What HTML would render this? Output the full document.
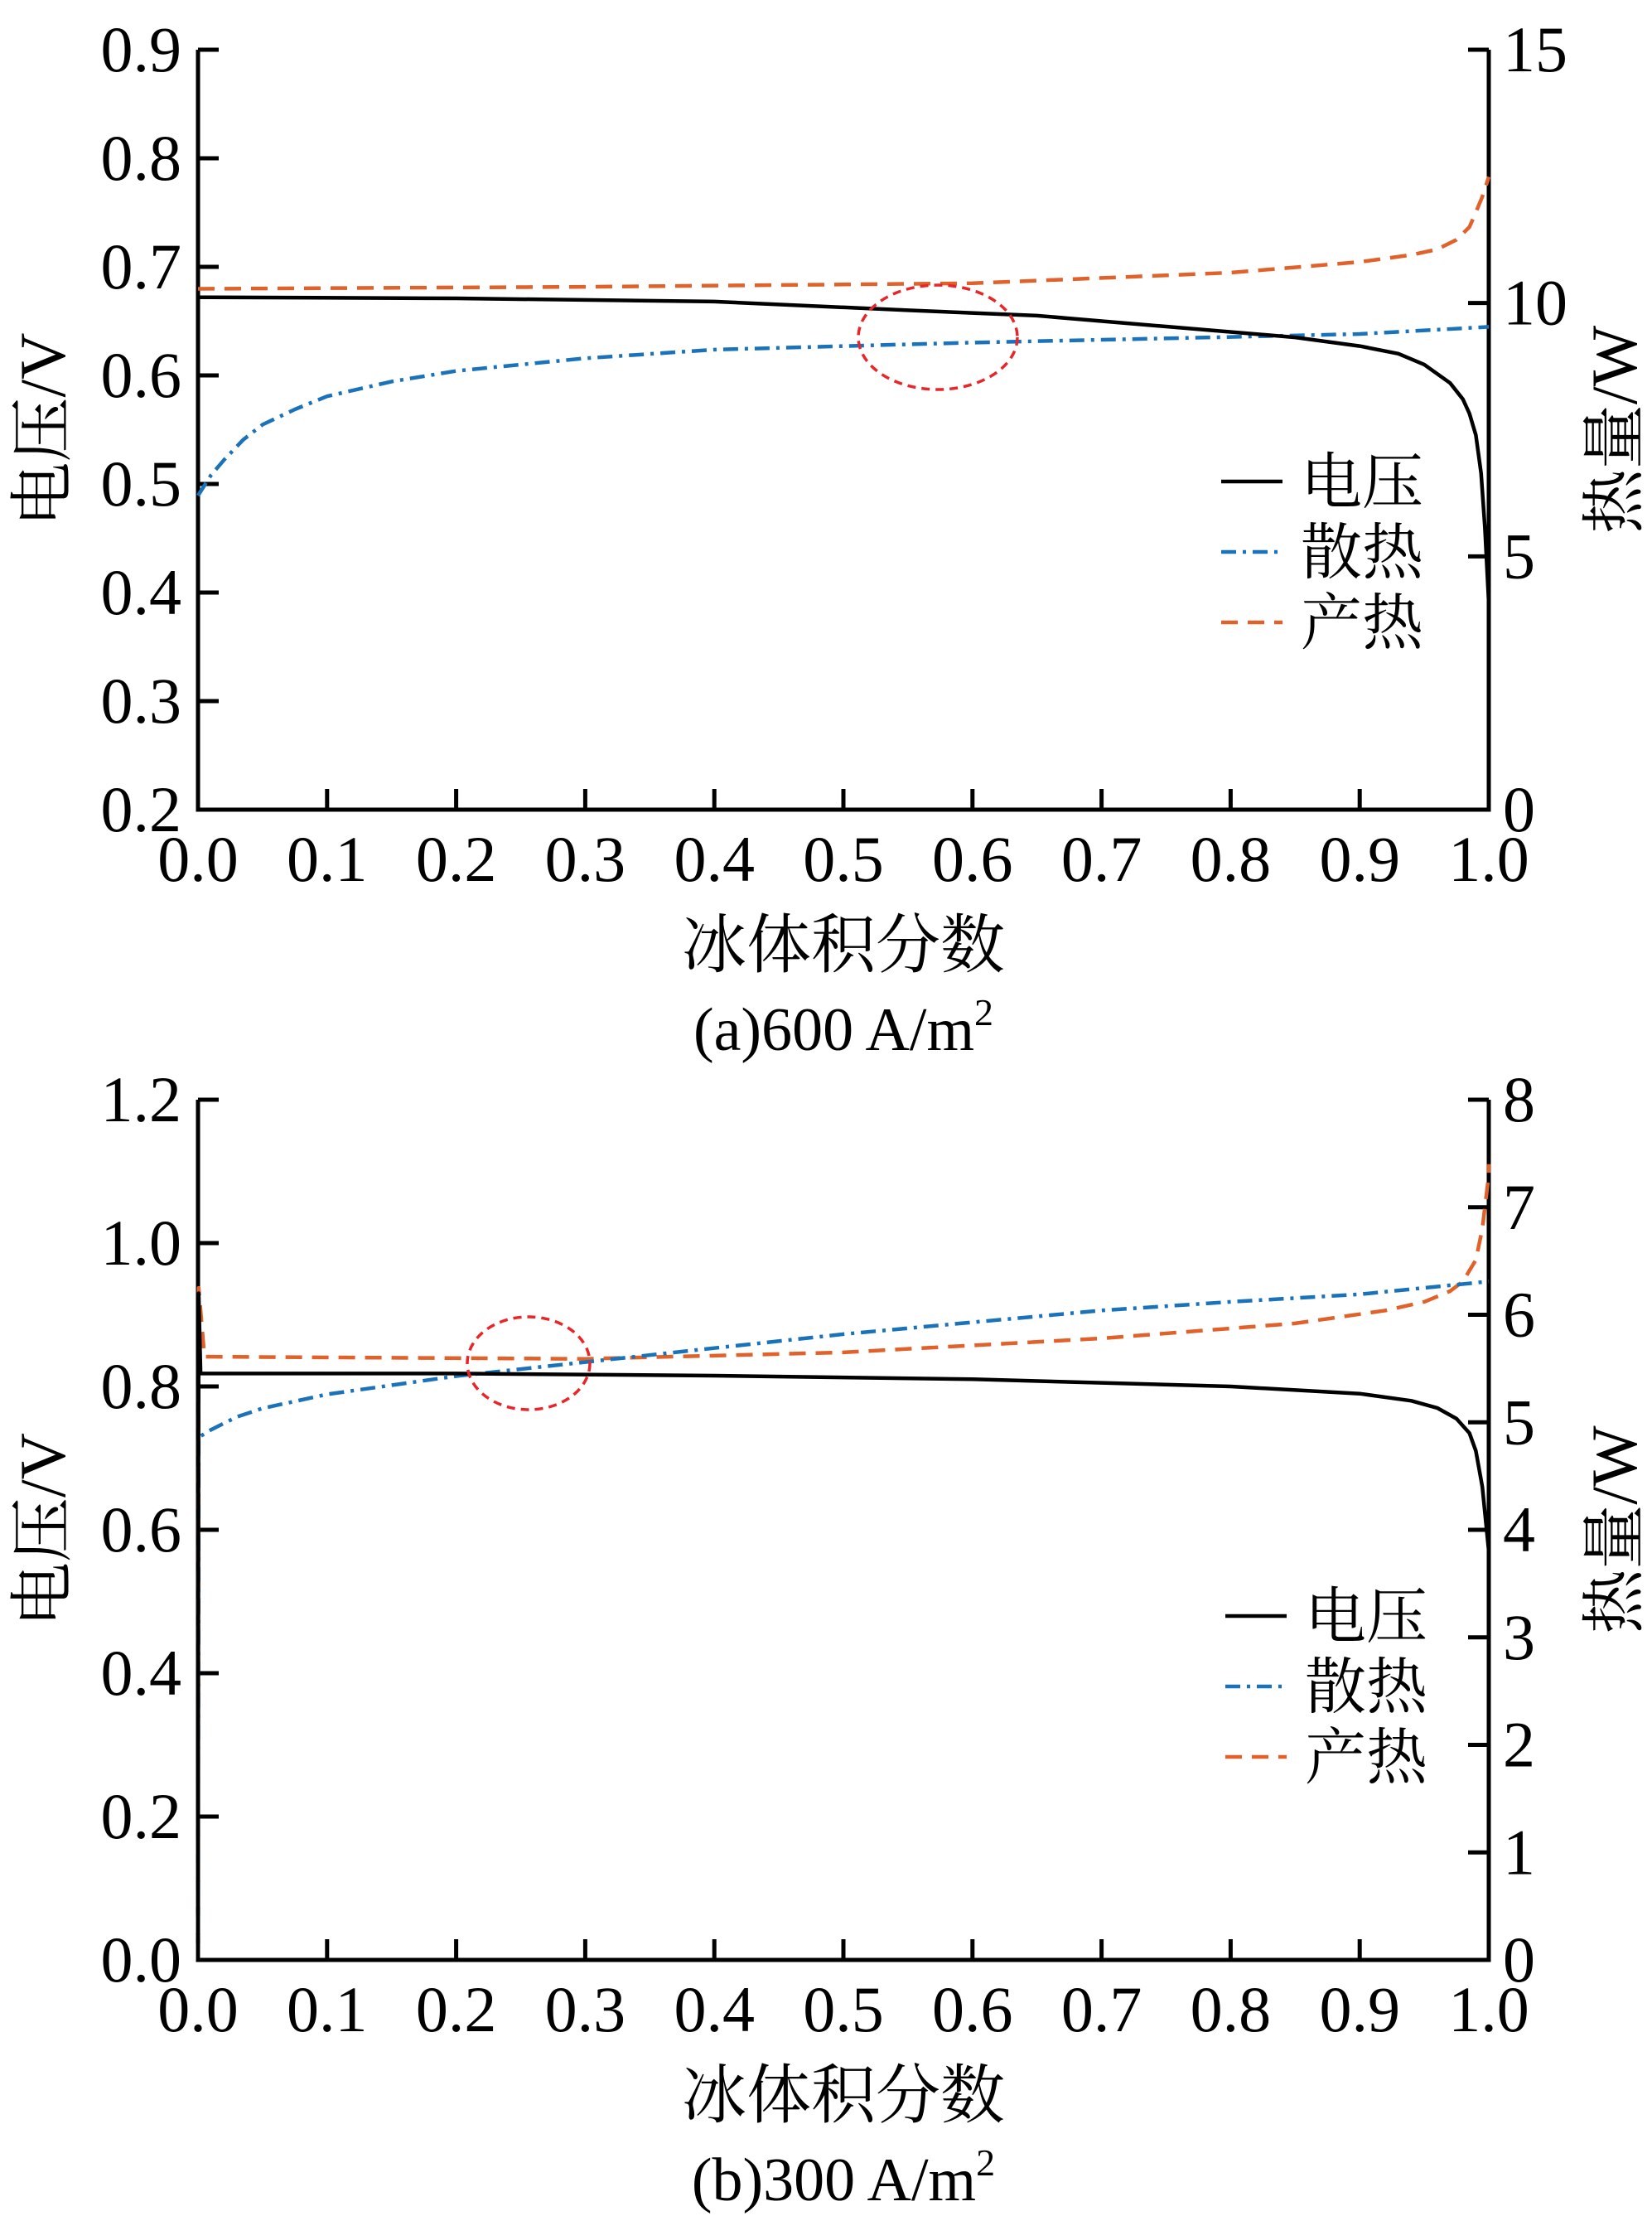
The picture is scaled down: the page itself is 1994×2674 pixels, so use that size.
<!DOCTYPE html>
<html><head><meta charset="utf-8"><style>
html,body{margin:0;padding:0;background:#fff}
svg{display:block}
text{font-family:"Liberation Serif","Noto Serif CJK SC",serif;fill:#000}
.cjk{font-family:"Liberation Serif","Noto Serif CJK SC","Noto Sans CJK SC",serif}
</style></head><body>
<svg id="fig" width="1994" height="2674" viewBox="0 0 1994 2674" xmlns="http://www.w3.org/2000/svg"></svg>
<script>
// ---- Chart (a) 600 A/m2 data ----
const aVoltX = [0,0.2,0.4,0.55,0.65,0.75,0.85,0.9,0.93,0.95,0.97,0.98,0.985,0.99,0.994,0.997,1.0];
const aVoltY = [0.672,0.671,0.668,0.66,0.655,0.645,0.635,0.627,0.62,0.61,0.593,0.578,0.565,0.545,0.51,0.46,0.39];
const aGenX = [0,0.3,0.6,0.8,0.9,0.94,0.96,0.975,0.985,0.99,0.995,1.0];
const aGenY = [10.28,10.32,10.39,10.6,10.81,10.95,11.06,11.25,11.5,11.79,12.1,12.49];
const aDisX = [0,0.01,0.02,0.035,0.05,0.075,0.1,0.15,0.2,0.3,0.4,0.6,0.8,0.9,1.0];
const aDisY = [6.2,6.6,6.9,7.3,7.6,7.9,8.16,8.45,8.66,8.91,9.08,9.22,9.33,9.39,9.53];
const aLeftTicks = [0.2,0.3,0.4,0.5,0.6,0.7,0.8,0.9];
const aRightTicks = [0,5,10,15];
// ---- Chart (b) 300 A/m2 data ----
const bVoltX = [0,0.0005,0.002,0.1,0.2,0.4,0.6,0.8,0.9,0.94,0.96,0.975,0.985,0.99,0.995,1.0];
const bVoltY = [0.0,0.93,0.818,0.818,0.818,0.815,0.81,0.8,0.79,0.78,0.77,0.755,0.735,0.71,0.66,0.57];
const bGenX = [0,0.0005,0.005,0.3,0.5,0.7,0.85,0.92,0.95,0.97,0.98,0.99,0.995,1.0,1.0];
const bGenY = [0,6.25,5.61,5.59,5.65,5.78,5.92,6.04,6.12,6.22,6.31,6.51,6.8,7.3,7.4];
const bDisX = [0,0.0005,0.01,0.03,0.05,0.1,0.2,0.3,0.4,0.5,0.6,0.7,0.8,0.9,1.0];
const bDisY = [0,4.86,4.93,5.05,5.13,5.26,5.43,5.56,5.69,5.82,5.93,6.04,6.12,6.19,6.31];
const bLeftTicks = [0.0,0.2,0.4,0.6,0.8,1.0,1.2];
const bRightTicks = [0,1,2,3,4,5,6,7,8];
const xTicks = [0,0.1,0.2,0.3,0.4,0.5,0.6,0.7,0.8,0.9,1.0];

const NS="http://www.w3.org/2000/svg";
const svg=document.getElementById('fig');
function mk(tag,attrs,parent,txt){const e=document.createElementNS(NS,tag);for(const k in attrs)e.setAttribute(k,attrs[k]);if(txt!==undefined)e.textContent=txt;(parent||svg).appendChild(e);return e;}

function chart(cfg){
  const g=mk('g',{});
  
  
  const X0=239,X1=1797,Yt=cfg.top,Yb=cfg.bottom;
  const sx=v=>X0+(X1-X0)*v;
  const sl=v=>Yb-(Yb-Yt)*(v-cfg.lmin)/(cfg.lmax-cfg.lmin);
  const sr=v=>Yb-(Yb-Yt)*(v-cfg.rmin)/(cfg.rmax-cfg.rmin);
  const ax=mk('path',{d:`M${X0},${Yt} L${X0},${Yb} L${X1},${Yb} L${X1},${Yt}`,fill:'none',stroke:'#000','stroke-width':5},g);
  
  
  cfg.lticks.forEach(v=>{
    const y=sl(v);
    mk('line',{x1:X0,x2:X0+25,y1:y,y2:y,stroke:'#000','stroke-width':5},g);
    const t=mk('text',{x:219,y:y+26,'font-size':78,'text-anchor':'end'},g,v.toFixed(1));
    
    
  });
  cfg.rticks.forEach(v=>{
    const y=sr(v);
    mk('line',{x1:X1-25,x2:X1,y1:y,y2:y,stroke:'#000','stroke-width':5},g);
    const t=mk('text',{x:1814,y:y+26,'font-size':78},g,String(v));
    
    
  });
  xTicks.forEach(v=>{
    const x=sx(v);
    mk('line',{x1:x,x2:x,y1:Yb,y2:Yb-25,stroke:'#000','stroke-width':5},g);
    const t=mk('text',{x:x,y:Yb+86,'font-size':78,'text-anchor':'middle'},g,v.toFixed(1));
    
    
  });
  function series(xs,ys,sc,color,dash,name){
    const pts=xs.map((x,i)=>sx(x).toFixed(1)+','+sc(ys[i]).toFixed(1)).join(' ');
    const p=mk('polyline',{points:pts,fill:'none',stroke:color,'stroke-width':4.5,'stroke-dasharray':dash,'stroke-linejoin':'round'},g);
    
    
  }
  series(cfg.genX,cfg.genY,sr,'#e0612a','20 12','heat-generation-line');
  series(cfg.disX,cfg.disY,sr,'#1a72bb','18 8 4 8','heat-dissipation-line');
  series(cfg.voltX,cfg.voltY,sl,'#000','none','voltage-line');
  const el=mk('ellipse',{cx:cfg.ell[0],cy:cfg.ell[1],rx:cfg.ell[2],ry:cfg.ell[3],fill:'none',stroke:'#e8262a','stroke-width':3.5,'stroke-dasharray':'10 7'},g);
  
  
  const lt=mk('text',{transform:`translate(${cfg.ltx},${(Yt+Yb)/2}) rotate(-90)`,'font-size':78,'text-anchor':'middle','class':'cjk'},g,'电压/V');
  
  
  const rt=mk('text',{transform:`translate(${cfg.rtx},${(Yt+Yb)/2}) rotate(-90)`,'font-size':78,'text-anchor':'middle','class':'cjk'},g,'热量/W');
  
  
  const xt=mk('text',{x:1018,y:Yb+190,'font-size':78,'text-anchor':'middle','class':'cjk'},g,'冰体积分数');
  
  
  const cap=mk('text',{x:1018,y:Yb+290,'font-size':74,'text-anchor':'middle'},g);
  
  
  mk('tspan',{},cap,cfg.caption);
  mk('tspan',{'font-size':46,dy:-30},cap,'2');
  const items=[['电压','#000','none'],['散热','#1a72bb','18 8 4 8'],['产热','#e0612a','20 12']];
  items.forEach((it,i)=>{
    const y=cfg.legY+i*85;
    const lg=mk('g',{},g);
    
    
    mk('line',{x1:cfg.legX,x2:cfg.legX+74,y1:y,y2:y,stroke:it[1],'stroke-width':4.5,'stroke-dasharray':it[2]},lg);
    mk('text',{x:cfg.legX+96,y:y+26,'font-size':74,'class':'cjk'},lg,it[0]);
  });
}
chart({name:'chart-a-600',top:60,bottom:977,lmin:0.2,lmax:0.9,rmin:0,rmax:15,lticks:aLeftTicks,rticks:aRightTicks,
  voltX:aVoltX,voltY:aVoltY,genX:aGenX,genY:aGenY,disX:aDisX,disY:aDisY,ell:[1132,407,96,63],
  ltx:78,rtx:1975,caption:'(a)600 A/m',legX:1474,legY:581});
chart({name:'chart-b-300',top:1327,bottom:2365,lmin:0,lmax:1.2,rmin:0,rmax:8,lticks:bLeftTicks,rticks:bRightTicks,
  voltX:bVoltX,voltY:bVoltY,genX:bGenX,genY:bGenY,disX:bDisX,disY:bDisY,ell:[638,1645,74,56],
  ltx:78,rtx:1975,caption:'(b)300 A/m',legX:1479,legY:1950});
</script>
</body></html>
